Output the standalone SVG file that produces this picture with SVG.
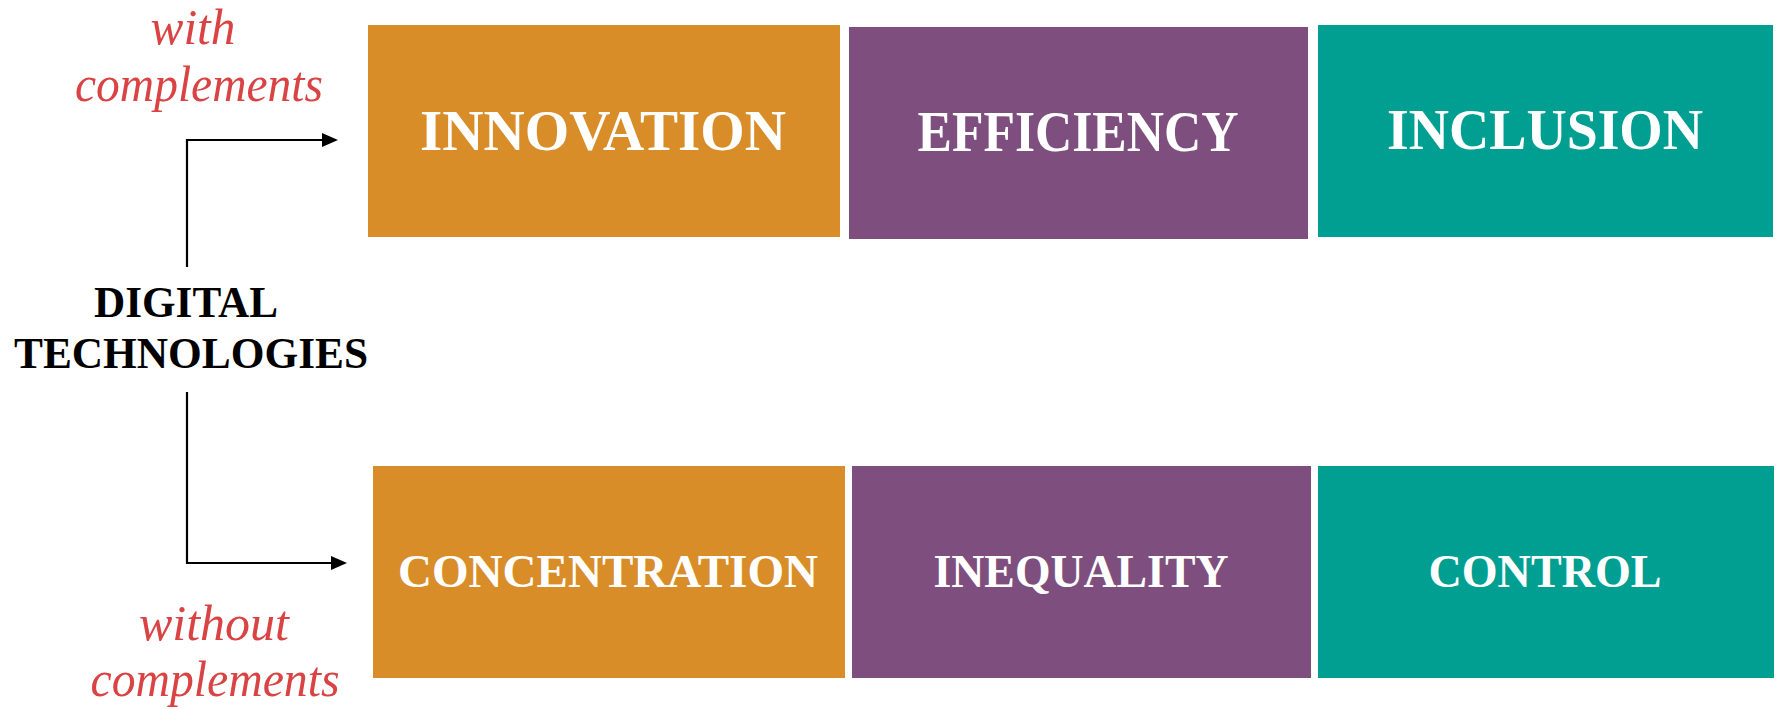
<svg xmlns="http://www.w3.org/2000/svg" width="1777" height="710" viewBox="0 0 1777 710">
<style>
.box-o{fill:#D98D29}
.box-p{fill:#7E4F7E}
.box-t{fill:#009F92}
.lbl{font-family:"Liberation Serif","Times New Roman",serif;font-weight:bold;fill:#FFFFFF;text-anchor:middle}
.top{font-size:57px}
.bot{font-size:47px}
.src{font-family:"Liberation Serif","Times New Roman",serif;font-weight:bold;font-size:45px;fill:#000000;text-anchor:middle}
.note{font-family:"Liberation Serif","Times New Roman",serif;font-style:italic;font-size:50px;fill:#D94343;text-anchor:middle}
.conn{fill:none;stroke:#000000;stroke-width:2.2}
</style>
<defs>
<marker id="arrow" markerWidth="16" markerHeight="14" refX="0" refY="7" orient="auto" markerUnits="userSpaceOnUse">
<path d="M0,0 L16,7 L0,14 Z" fill="#000000"/>
</marker>
</defs>
<rect width="1777" height="710" fill="#FFFFFF"/>

<g id="labels">
<text class="note" x="193" y="44" textLength="85" lengthAdjust="spacingAndGlyphs">with</text>
<text class="note" x="199" y="101" textLength="248" lengthAdjust="spacingAndGlyphs">complements</text>
<text class="note" x="214" y="640" textLength="150" lengthAdjust="spacingAndGlyphs">without</text>
<text class="note" x="215" y="696" textLength="249" lengthAdjust="spacingAndGlyphs">complements</text>
</g>

<g id="digital-technologies">
<text class="src" x="186" y="317" textLength="184" lengthAdjust="spacingAndGlyphs">DIGITAL</text>
<text class="src" x="191" y="368" textLength="354" lengthAdjust="spacingAndGlyphs">TECHNOLOGIES</text>
</g>

<g id="connectors">
<path class="conn" d="M187,267 V140 H322" marker-end="url(#arrow)"/>
<path class="conn" d="M187,392 V563 H331" marker-end="url(#arrow)"/>
</g>

<g id="innovation">
<rect class="box-o" x="368" y="25" width="472" height="212"/>
<text class="lbl top" x="603" y="150" textLength="366" lengthAdjust="spacingAndGlyphs">INNOVATION</text>
</g>
<g id="efficiency">
<rect class="box-p" x="849" y="27" width="459" height="212"/>
<text class="lbl top" x="1078" y="151" textLength="321" lengthAdjust="spacingAndGlyphs">EFFICIENCY</text>
</g>
<g id="inclusion">
<rect class="box-t" x="1318" y="25" width="455" height="212"/>
<text class="lbl top" x="1545" y="149" textLength="316" lengthAdjust="spacingAndGlyphs">INCLUSION</text>
</g>

<g id="concentration">
<rect class="box-o" x="373" y="466" width="472" height="212"/>
<text class="lbl bot" x="608" y="587" textLength="420" lengthAdjust="spacingAndGlyphs">CONCENTRATION</text>
</g>
<g id="inequality">
<rect class="box-p" x="852" y="466" width="459" height="212"/>
<text class="lbl bot" x="1081" y="587" textLength="295" lengthAdjust="spacingAndGlyphs">INEQUALITY</text>
</g>
<g id="control">
<rect class="box-t" x="1318" y="466" width="456" height="212"/>
<text class="lbl bot" x="1545" y="587" textLength="233" lengthAdjust="spacingAndGlyphs">CONTROL</text>
</g>
</svg>
